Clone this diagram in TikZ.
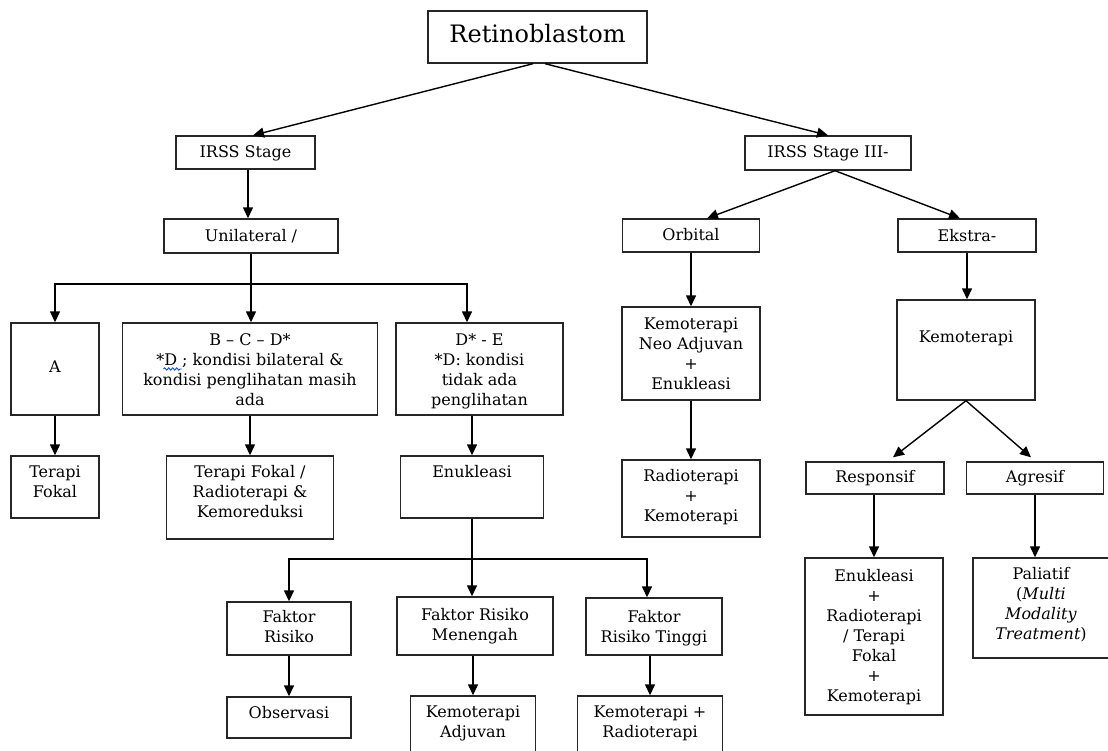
\documentclass[tikz,border=0pt]{standalone}
\usepackage{fontspec}
\setmainfont{DejaVu Serif}
\usetikzlibrary{arrows.meta,calc,decorations.pathmorphing}
\newcommand\rowtxt[1]{\strut#1}
\tikzset{
  box/.style={draw=black!85, line width=1.4pt, rectangle, inner sep=0pt},
  lbl/.style={align=center, inner sep=0pt, font=\fontsize{16}{20}\selectfont},
  big/.style={inner sep=0pt, font=\fontsize{24}{28}\selectfont},
  arr/.style={draw=black, line width=1.4pt, -{Triangle[length=11pt,width=10pt]}},
  ln/.style={draw=black, line width=1.4pt},
}
\begin{document}
\begin{tikzpicture}[x=1pt, y=-1pt]
\useasboundingbox (0,0) rectangle (1108,750);
\fill[white] (0,0) rectangle (1108,750);

% boxes
\node[box, minimum width=219, minimum height=52] (root)  at (537.5,37) {};
\node[box, minimum width=139, minimum height=33] (irssL) at (245.5,152.5) {};
\node[box, minimum width=174, minimum height=34] (unil)  at (251,236) {};
\node[box, minimum width=166, minimum height=34] (irssR) at (828,153) {};
\node[box, minimum width=137, minimum height=33] (orb)   at (691,235.5) {};
\node[box, minimum width=138, minimum height=33] (eks)   at (967,235.5) {};
\node[box, minimum width=88,  minimum height=92] (A)     at (55,369) {};
\node[box, minimum width=255, minimum height=92] (bcd)   at (250,369) {};
\node[box, minimum width=167, minimum height=92] (de)    at (479.5,369) {};
\node[box, minimum width=88,  minimum height=62] (tf)    at (55,487) {};
\node[box, minimum width=167, minimum height=83] (tfr)   at (250,497.5) {};
\node[box, minimum width=143, minimum height=62] (enu)   at (472,487) {};
\node[box, minimum width=138, minimum height=93] (neo)   at (691,353.5) {};
\node[box, minimum width=138, minimum height=77] (rk)    at (691,498.5) {};
\node[box, minimum width=138, minimum height=100] (kemR) at (966,350) {};
\node[box, minimum width=138, minimum height=32] (resp)  at (875,478) {};
\node[box, minimum width=137, minimum height=32] (agr)   at (1035,478) {};
\node[box, minimum width=138, minimum height=157] (erk)  at (874,636.5) {};
\node[box, minimum width=136, minimum height=100] (pal)  at (1041,608) {};
\node[box, minimum width=124, minimum height=53] (fr)    at (289,628.5) {};
\node[box, minimum width=156, minimum height=58] (frm)   at (475,626) {};
\node[box, minimum width=136, minimum height=57] (frt)   at (654,626.5) {};
\node[box, minimum width=124, minimum height=41] (obs)   at (289,717.5) {};
\node[box, minimum width=125, minimum height=74] (ka)    at (473,733) {};
\node[box, minimum width=145, minimum height=74] (krr)   at (650,733) {};

% texts
\node[big] (t-root) at (537.5,37) {\rowtxt{Retinoblastom}};
\node[lbl] (t-irssL) at (245.5,153) {\rowtxt{IRSS Stage}};
\node[lbl] (t-unil) at (251,237) {\rowtxt{Unilateral /}};
\node[lbl] (t-irssR) at (828,153) {\rowtxt{IRSS Stage III-}};
\node[lbl] (t-orb) at (691,236) {\rowtxt{Orbital}};
\node[lbl] (t-eks) at (967,237) {\rowtxt{Ekstra-}};
\node[lbl] (t-A) at (55,368) {\rowtxt{A}};
\node[lbl] (t-bcd) at (250,371) {\rowtxt{B – C – D*}\\\rowtxt{*D ; kondisi bilateral \&}\\\rowtxt{kondisi penglihatan masih}\\\rowtxt{ada}};
\node[lbl] (t-de) at (479.5,371) {\rowtxt{D* - E}\\\rowtxt{*D: kondisi}\\\rowtxt{tidak ada}\\\rowtxt{penglihatan}};
\node[lbl] (t-tf) at (55,483) {\rowtxt{Terapi}\\\rowtxt{Fokal}};
\node[lbl] (t-tfr) at (250,493) {\rowtxt{Terapi Fokal /}\\\rowtxt{Radioterapi \&}\\\rowtxt{Kemoreduksi}};
\node[lbl] (t-enu) at (472,473) {\rowtxt{Enukleasi}};
\node[lbl] (t-neo) at (691,355) {\rowtxt{Kemoterapi}\\\rowtxt{Neo Adjuvan}\\\rowtxt{+}\\\rowtxt{Enukleasi}};
\node[lbl] (t-rk) at (691,497) {\rowtxt{Radioterapi}\\\rowtxt{+}\\\rowtxt{Kemoterapi}};
\node[lbl] (t-kemR) at (966,338) {\rowtxt{Kemoterapi}};
\node[lbl] (t-resp) at (875,478) {\rowtxt{Responsif}};
\node[lbl] (t-agr) at (1035,478) {\rowtxt{Agresif}};
\node[lbl] (t-erk) at (874,637) {\rowtxt{Enukleasi}\\\rowtxt{+}\\\rowtxt{Radioterapi}\\\rowtxt{/ Terapi}\\\rowtxt{Fokal}\\\rowtxt{+}\\\rowtxt{Kemoterapi}};
\node[lbl] (t-pal) at (1041,605) {\rowtxt{Paliatif}\\\rowtxt{(\textit{Multi}}\\\rowtxt{\textit{Modality}}\\\rowtxt{\textit{Treatment})}};
\node[lbl] (t-fr) at (289,628) {\rowtxt{Faktor}\\\rowtxt{Risiko}};
\node[lbl] (t-frm) at (475,626) {\rowtxt{Faktor Risiko}\\\rowtxt{Menengah}};
\node[lbl] (t-frt) at (654,628) {\rowtxt{Faktor}\\\rowtxt{Risiko Tinggi}};
\node[lbl] (t-obs) at (289,714) {\rowtxt{Observasi}};
\node[lbl] (t-ka) at (473,723) {\rowtxt{Kemoterapi}\\\rowtxt{Adjuvan}};
\node[lbl] (t-krr) at (650,723) {\rowtxt{Kemoterapi +}\\\rowtxt{Radioterapi}};

% spell-check squiggle under "D"
\draw[blue!75!cyan, line width=0.8pt, decorate, decoration={snake, amplitude=1.2pt, segment length=4pt}] (163.5,369) -- (181.5,369);

% connectors
\draw[arr] ([xshift=-4.5pt]root.south) -- ([xshift=7.5pt]irssL.north);
\draw[arr] ([xshift=7.5pt]root.south) -- (irssR.north);
\draw[arr] ([xshift=2.5pt]irssL.south) -- ([xshift=2.5pt]irssL.south |- unil.north);

\coordinate (j1) at (251,284);
\draw[ln] (unil.south) -- (j1);
\draw[arr] (j1) -| (A.north);
\draw[arr] (j1) -- (j1 |- bcd.north);
\draw[arr] (j1) -| ([xshift=-12.5pt]de.north);

\draw[arr] (A.south) -- (tf.north);
\draw[arr] (bcd.south) -- (tfr.north);
\draw[arr] (de.south -| enu.north) -- (enu.north);

\coordinate (j2) at (472,559);
\draw[ln] (enu.south) -- (j2);
\draw[arr] (j2) -| (fr.north);
\draw[arr] (j2) -- (j2 |- frm.north);
\draw[arr] (j2) -| ([xshift=-7pt]frt.north);

\draw[arr] (fr.south) -- (obs.north);
\draw[arr] (ka.north |- frm.south) -- (ka.north);
\draw[arr] (krr.north |- frt.south) -- (krr.north);

\draw[arr] ([xshift=7pt]irssR.south) -- ([xshift=16pt]orb.north);
\draw[arr] ([xshift=7pt]irssR.south) -- ([xshift=-7pt]eks.north);
\draw[arr] (orb.south) -- (orb.south |- neo.north);
\draw[arr] (neo.south) -- (rk.north);
\draw[arr] (eks.south) -- (eks.south |- kemR.north);
\draw[arr] (kemR.south) -- ([xshift=18pt,yshift=4pt]resp.north);
\draw[arr] (kemR.south) -- ([xshift=-4pt,yshift=4pt]agr.north);
\draw[arr] (erk.north |- resp.south) -- (erk.north);
\draw[arr] (agr.south) -- (agr.south |- pal.north);
\end{tikzpicture}
\end{document}
